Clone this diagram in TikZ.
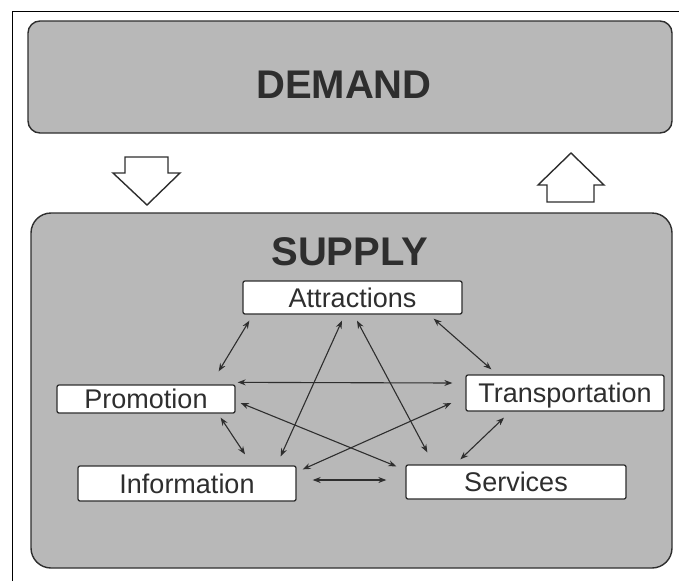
\documentclass[tikz,border=0pt]{standalone}
\usepackage{fontspec}
\setmainfont{Liberation Sans}
\usepackage{tikz}
\usetikzlibrary{arrows.meta, positioning}
\definecolor{panelgray}{HTML}{B8B8B8}
\definecolor{inkgray}{HTML}{2E2E2E}
\tikzstyle{panel} = [draw=inkgray, fill=panelgray, line width=1.4pt, rounded corners=12pt]
\tikzstyle{paneltitle} = [text=inkgray, font=\fontsize{40}{40}\selectfont\bfseries, inner sep=0pt, anchor=base]
\tikzstyle{element} = [draw=inkgray, fill=white, line width=1.3pt, rounded corners=2pt, inner sep=0pt, text=inkgray, font=\fontsize{27}{27}\selectfont, text height=19.3pt, text depth=0pt]
\tikzstyle{flow} = [draw=inkgray, fill=white, line width=1.4pt, line join=miter]
\tikzstyle{link} = [draw=inkgray, line width=1.1pt, {Stealth[length=8pt,width=6pt]}-{Stealth[length=8pt,width=6pt]}]

\begin{document}
\begin{tikzpicture}[x=1pt, y=-1pt]
	\useasboundingbox (0,0) rectangle (679,581);
	\draw[line width=1.8pt] (12.5,581) -- (12.5,11.5) -- (679,11.5);
	\draw[panel] (28,21) rectangle (672,133);
	\node[paneltitle] (demand) at (344,98) {DEMAND};
	\draw[panel, rounded corners=20pt] (31,213) rectangle (672,568);
	\node[paneltitle] (supply) at (349.5,265) {SUPPLY};
	% demand <-> supply
	\draw[flow] (125,157) -- (168,157) -- (168,173) -- (180,173) -- (147,205) -- (113,173) -- (125,173) -- cycle;
	\draw[flow] (547,202) -- (594,202) -- (594,185) -- (604,185) -- (571,153) -- (538,185) -- (547,185) -- cycle;
	% supply elements
	\node[element, minimum width=219pt, minimum height=33pt] (attr) at (352.5,297.5) {Attractions};
	\node[element, minimum width=178pt, minimum height=28pt] (prom) at (146,399) {Promotion};
	\node[element, minimum width=198pt, minimum height=36pt] (trans) at (565,393) {Transportation};
	\node[element, minimum width=218pt, minimum height=35pt] (info) at (187,483.5) {Information};
	\node[element, minimum width=220pt, minimum height=34pt] (serv) at (516,482) {Services};
	\draw[link] ([shift={(7,6)}]attr.south west) -- ([shift={(-17,-13)}]prom.north east);
	\draw[link] ([shift={(-10.5,6)}]attr.south) -- ([shift={(-16,-9)}]info.north east);
	\draw[link] ([shift={(4.5,6)}]attr.south) -- ([shift={(22,-12)}]serv.north west);
	\draw[link] ([shift={(-29,4)}]attr.south east) -- ([shift={(26,-5)}]trans.north west);
	\draw[link] ([shift={(2,-2)}]prom.north east) -- ([shift={(-13,-10)}]trans.west);
	\draw[link] ([shift={(5,4)}]prom.east) -- ([shift={(-9,2)}]serv.north west);
	\draw[link] ([shift={(-15,4)}]prom.south east) -- ([shift={(58,-11)}]info.north);
	\draw[link] ([shift={(6,4)}]info.north east) -- ([shift={(-14,10)}]trans.west);
	\draw[link] ([shift={(16,-3.5)}]info.east) -- ([shift={(-19,-2)}]serv.west);
	\draw[link] ([shift={(-61,6)}]trans.south) -- ([shift={(55,-5)}]serv.north west);
\end{tikzpicture}
\end{document}
